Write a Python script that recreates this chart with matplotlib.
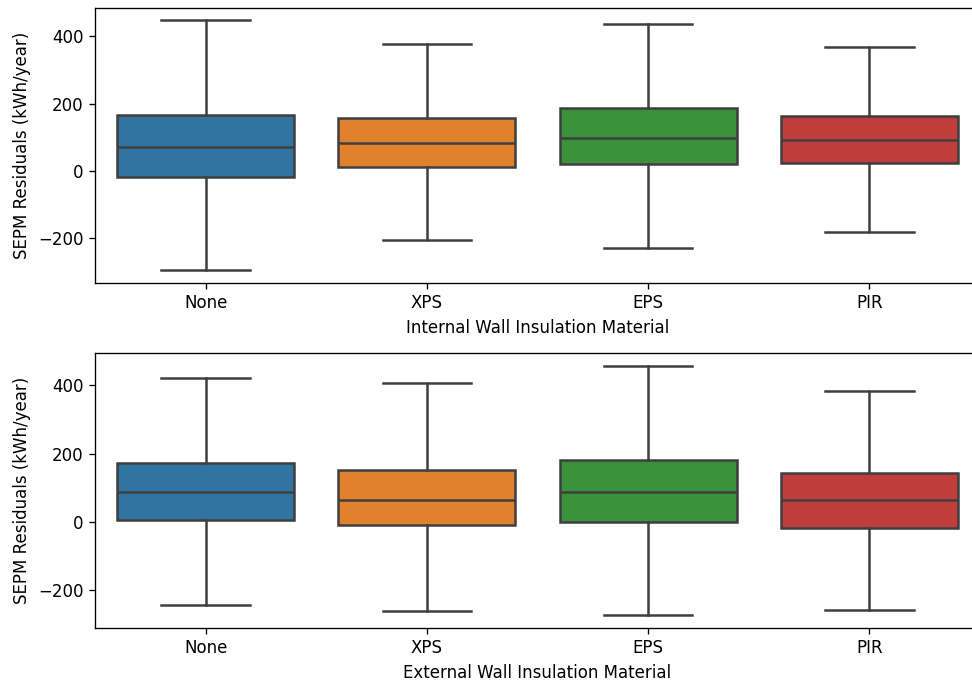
import matplotlib
matplotlib.use("Agg")
import matplotlib.pyplot as plt

materials = ["None", "XPS", "EPS", "PIR"]
colors = ["#3274a1", "#e1812c", "#3a923a", "#c03d3e"]

# box stats (kWh/year)
internal_whislo = [-297, -207, -230, -183]
internal_q1 = [-18, 11, 20, 23]
internal_med = [69, 82, 97, 91]
internal_q3 = [165, 158, 188, 162]
internal_whishi = [449, 379, 437, 369]

external_whislo = [-244, -262, -274, -259]
external_q1 = [6, -9, 0, -18]
external_med = [86, 64, 86, 64]
external_q3 = [172, 153, 182, 142]
external_whishi = [423, 406, 458, 383]

line_color = "#3f3f3f"


def make_stats(lo, q1, med, q3, hi):
    return [
        {"label": m, "whislo": a, "q1": b, "med": c, "q3": d, "whishi": e, "fliers": []}
        for m, a, b, c, d, e in zip(materials, lo, q1, med, q3, hi)
    ]


def draw(ax, stats, xlabel):
    bp = ax.bxp(
        stats,
        positions=range(len(stats)),
        widths=0.8,
        patch_artist=True,
        showfliers=False,
        boxprops=dict(edgecolor=line_color, linewidth=1.5),
        whiskerprops=dict(color=line_color, linewidth=1.5),
        capprops=dict(color=line_color, linewidth=1.5),
        medianprops=dict(color=line_color, linewidth=1.5),
        capwidths=0.4,
    )
    for patch, c in zip(bp["boxes"], colors):
        patch.set_facecolor(c)
    ax.set_xlim(-0.5, len(stats) - 0.5)
    ax.set_xticks(range(len(stats)))
    ax.set_xticklabels(materials)
    ax.set_xlabel(xlabel)
    ax.set_ylabel("SEPM Residuals (kWh/year)")
    ax.set_yticks([-200, 0, 200, 400])


# original was cropped on the right, so the axes run past the figure edge
fig = plt.figure(figsize=(8.1, 683 / 120), dpi=120)
ax1 = fig.add_axes([0.0977, 0.586, 0.9105, 0.403])
ax2 = fig.add_axes([0.0977, 0.081, 0.9105, 0.402])

draw(ax1, make_stats(internal_whislo, internal_q1, internal_med, internal_q3, internal_whishi),
     "Internal Wall Insulation Material")
draw(ax2, make_stats(external_whislo, external_q1, external_med, external_q3, external_whishi),
     "External Wall Insulation Material")

ax1.margins(y=0.05)
ax2.margins(y=0.05)

fig.savefig("out.png", dpi=120)
